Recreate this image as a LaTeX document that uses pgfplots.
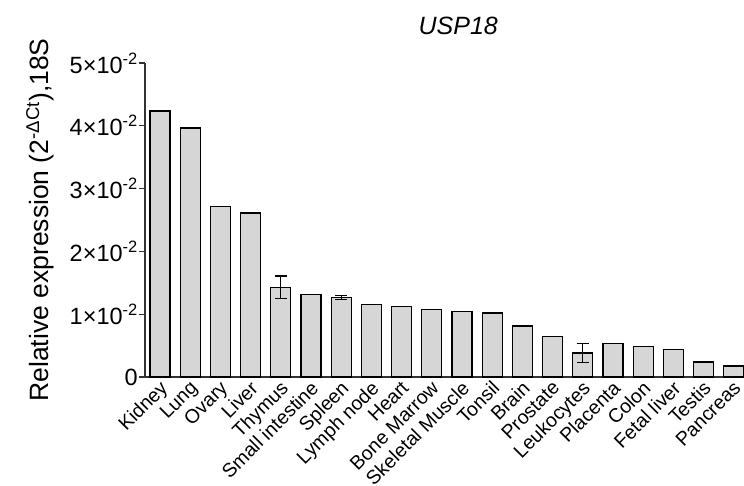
\documentclass[border=0pt]{standalone}
\usepackage{pgfplots}
\usepackage{pgfplotstable}
\pgfplotsset{compat=1.18}
\usepackage{fontspec}
\setmainfont{Liberation Sans}

% USP18 expression per tissue, relative to 18S
\pgfplotstableread{
idx value
0 0.04236
1 0.03965
2 0.02720
3 0.02610
4 0.01430
5 0.01310
6 0.01265
7 0.01153
8 0.01126
9 0.01078
10 0.01046
11 0.01020
12 0.00813
13 0.00643
14 0.00383
15 0.00531
16 0.00488
17 0.00435
18 0.00239
19 0.00175
}\exprtable

% tissues measured with replicates (mean and error)
\pgfplotstableread{
idx value err
4 0.01430 0.00178
6 0.01265 0.00037
14 0.00383 0.00156
}\errtable

\definecolor{barfill}{HTML}{D6D6D6}

\begin{document}
\begin{tikzpicture}
\path[use as bounding box] (0,0) rectangle (744bp,486bp);
\begin{axis}[
  at={(145bp,109bp)}, anchor=south west,
  scale only axis, width=599bp, height=314bp,
  xmin=-0.497, xmax=19.34, ymin=0, ymax=0.05,
  axis x line*=bottom, axis y line*=left,
  axis line style={-, line width=1.3bp, black!80},
  clip=false,
  xtick={0,...,19},
  xticklabels={Kidney,Lung,Ovary,Liver,Thymus,Small intestine,Spleen,Lymph node,Heart,Bone Marrow,Skeletal Muscle,Tonsil,Brain,Prostate,Leukocytes,Placenta,Colon,Fetal liver,Testis,Pancreas},
  x tick label style={rotate=45, anchor=north east, font=\fontsize{19.5bp}{19.5bp}\selectfont, inner sep=0.5bp, xshift=2bp, yshift=4bp},
  major x tick style={draw=none},
  ytick={0,0.01,0.02,0.03,0.04,0.05},
  yticklabels={0,1×10\textsuperscript{-2},2×10\textsuperscript{-2},3×10\textsuperscript{-2},4×10\textsuperscript{-2},5×10\textsuperscript{-2}},
  scaled y ticks=false,
  y tick label style={font=\fontsize{23.5bp}{23.5bp}\selectfont, inner sep=1bp},
  tick align=outside, major tick length=6bp,
  major y tick style={line width=1.3bp, black!80},
  ylabel={Relative expression (2\textsuperscript{-ΔCt}),18S},
  every axis y label/.style={at={(rel axis cs:0,0.5)}, xshift=-105bp, rotate=90, anchor=center,
    font=\fontsize{26.5bp}{26.5bp}\selectfont},
  title={\textit{USP18}},
  title style={at={(rel axis cs:0.523,1)}, anchor=south, inner sep=0pt, yshift=22bp, font=\fontsize{25bp}{25bp}\selectfont},
]
\addplot[ybar, bar shift=0pt, bar width=0.66, fill=barfill, draw=black, line width=1.2bp]
  table[x=idx, y=value] {\exprtable};
\addplot[only marks, mark=text, text mark={}, black,
  error bars/.cd, y dir=both, y explicit,
  error bar style={line width=1.2bp, black},
  error mark options={rotate=90, mark size=6bp, line width=1.2bp, black}]
  table[x=idx, y=value, y error=err] {\errtable};
\end{axis}
\end{tikzpicture}
\end{document}
